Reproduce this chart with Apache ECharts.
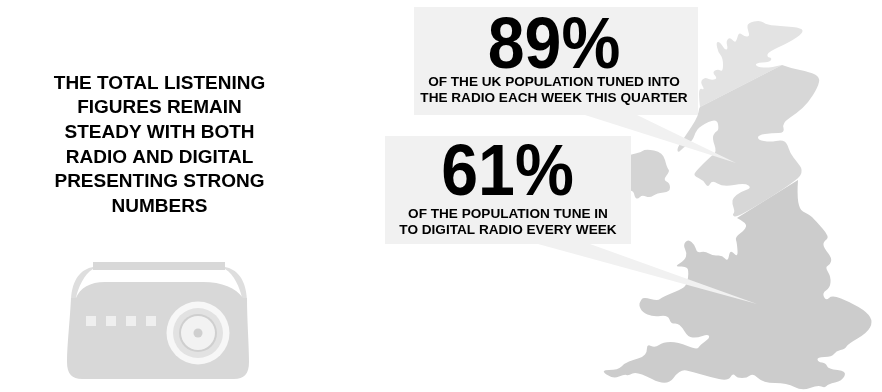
<!DOCTYPE html>
<html>
<head>
<meta charset="utf-8">
<style>html,body{margin:0;padding:0;background:#fff}#chart{width:882px;height:392px}</style>
<script src="https://cdn.jsdelivr.net/npm/echarts@6/dist/echarts.min.js"></script>
</head>
<body>
<div id="chart"></div>
<script>
// Headline figures and their captions
const statValues = [89, 61];
const statCaptions = [
  ['OF THE UK POPULATION TUNED INTO', 'THE RADIO EACH WEEK THIS QUARTER'],
  ['OF THE POPULATION TUNE IN', 'TO DIGITAL RADIO EVERY WEEK']
];
const introLines = [
  'THE TOTAL LISTENING', 'FIGURES REMAIN', 'STEADY WITH BOTH',
  'RADIO AND DIGITAL', 'PRESENTING STRONG', 'NUMBERS'
];

// Map outlines: each coast is an open chain, closed by a straight regional border
const scotlandCoast = [[700,107],[699,100],[699,88],[705,90],[700,82],[705,77],[710,80],[718,79],[712,72],[718,69],[723,72],[723,58],[718,52],[716,42],[720,42],[725,50],[728,49],[726,41],[730,37],[735,43],[737,39],[739,32],[745,37],[750,36],[747,28],[748,23],[760,20],[767,25],[783,26],[802,28],[803,33],[790,42],[768,52],[767,57],[772,58],[770,62],[755,63],[757,67],[770,68],[782,65]];
const northCoast = [[782,65],[790,68],[810,72],[820,77],[818,87],[808,103],[797,113],[782,123],[785,133],[772,133],[758,135],[758,140],[770,142],[782,140],[787,143],[790,153],[797,162],[803,170],[798,180],[737,218],[732,215],[735,212],[732,203],[733,198],[740,192],[752,188],[745,183],[723,187],[712,180],[708,188],[703,180],[694,176],[695,172],[710,157],[717,152],[712,138],[715,132],[719,130],[717,118],[700,126],[695,133],[693,140],[683,148],[678,153],[677,148],[686,135],[692,126],[698,116],[699,108],[700,107]];
const southCoast = [[798,180],[796,208],[810,215],[815,220],[830,237],[823,242],[824,248],[832,258],[830,265],[825,267],[831,277],[830,288],[822,293],[826,301],[832,295],[850,302],[867,312],[873,322],[867,333],[848,344],[845,349],[836,351],[832,357],[817,357],[818,362],[826,363],[828,369],[847,371],[842,381],[828,384],[825,388],[818,385],[802,391],[787,383],[763,383],[753,373],[747,378],[737,378],[733,373],[728,381],[710,377],[693,372],[680,369],[667,387],[637,371],[628,376],[625,374],[613,379],[600,370],[618,370],[625,363],[633,360],[643,357],[647,352],[647,344],[655,348],[663,342],[678,342],[697,350],[700,345],[710,338],[708,334],[697,338],[688,337],[682,327],[677,323],[671,324],[668,315],[653,317],[642,312],[639,305],[640,302],[643,297],[658,301],[662,297],[680,290],[687,285],[689,270],[685,266],[674,267],[685,260],[687,253],[683,245],[688,239],[695,245],[697,253],[705,251],[713,256],[722,255],[728,262],[730,249],[738,258],[737,243],[735,237],[745,230],[747,223],[737,218]];
const irelandCoast = [[620,157],[640,153],[645,149],[663,152],[667,168],[670,171],[663,180],[670,183],[670,192],[657,193],[650,198],[642,195],[638,199],[635,198],[633,189],[620,190]];

// Callout panels and their tapering pointers
const panels = [[414,7,698,115],[385,136,631,244]];
const pointers = [[[585,115],[637,115],[736,163]],[[538,244],[590,244],[757,304]]];

const ink = '#000';
const sans = '"Liberation Sans", Arial, sans-serif';

// Rounds a coast through the midpoints of its segments while keeping both end points
function coastPath(points, api) {
  const p = points.map(q => api.coord(q));
  let d = 'M' + p[0][0] + ' ' + p[0][1];
  for (let i = 1; i < p.length - 1; i++) {
    const mx = (p[i][0] + p[i + 1][0]) / 2, my = (p[i][1] + p[i + 1][1]) / 2;
    d += 'Q' + p[i][0] + ' ' + p[i][1] + ' ' + (i === p.length - 2 ? p[i + 1][0] + ' ' + p[i + 1][1] : mx + ' ' + my);
  }
  return d + 'Z';
}
function area(points, fill, api) {
  return { type: 'path', shape: { pathData: coastPath(points, api) }, style: { fill } };
}
function flat(points, fill, api) {
  return { type: 'polygon', shape: { points: points.map(q => api.coord(q)) }, style: { fill } };
}
function box(r, fill, api) {
  const a = api.coord([r[0], r[1]]), b = api.coord([r[2], r[3]]);
  return { type: 'rect', shape: { x: a[0], y: a[1], width: b[0] - a[0], height: b[1] - a[1] }, style: { fill } };
}
function disc(c, radius, fill, api) {
  const a = api.coord(c);
  return { type: 'circle', shape: { cx: a[0], cy: a[1], r: radius }, style: { fill } };
}

function renderScene(params, api) {
  const children = [
    area(irelandCoast, '#d4d4d4', api),
    area(scotlandCoast, '#e3e3e3', api),
    area(northCoast, '#d7d7d7', api),
    area(southCoast, '#cccccc', api)
  ];
  panels.forEach(r => children.push(box(r, '#f1f1f1', api)));
  pointers.forEach(t => children.push(flat(t, '#f1f1f1', api)));

  // Radio: handle, case, tuning buttons and speaker
  children.push({ type: 'path', shape: { pathData: 'M93 267C82 269 72 278 71 300L76 298C78 288 84 274 93 269ZM225 267C236 269 246 278 247 300L242 298C240 288 234 274 225 269Z' }, style: { fill: '#dedede' } });
  children.push(box([93,262,225,270], '#d8d8d8', api));
  children.push({ type: 'path', shape: { pathData: 'M76 298C80 288 90 282 105 282L203 282C222 282 236 288 243 298L247 298C247 320 249 345 249 362C249 374 244 379 234 379L82 379C72 379 67 374 67 362C67 345 70 320 71 298Z' }, style: { fill: '#d8d8d8' } });
  [86,106,126,146].forEach(x => children.push(box([x,316,x+10,326], '#efefef', api)));
  children.push(disc([198,333], 31.5, '#f7f7f7', api));
  children.push(disc([198,333], 25, '#e2e2e2', api));
  children.push(disc([198,333], 19, '#cfcfcf', api));
  children.push(disc([198,333], 17, '#f2f2f2', api));
  children.push(disc([198,333], 4.5, '#cfcfcf', api));
  return { type: 'group', children };
}

function textEl(text, x, y, size, scaleX) {
  return { type: 'text', z: 100, silent: true, x, y, scaleX: scaleX || 1, style: { text, x: 0, y: 0, fill: ink, font: 'bold ' + size + 'px ' + sans, textAlign: 'center', textVerticalAlign: 'middle' } };
}
const introY = [83.3, 108, 133, 158, 181.7, 206.7];
const bigPos = [[554, 48], [507.5, 175.5]];
const captionY = [[82.5, 98.3], [214, 230]];
const captionX = [554, 508];
const texts = [];
introLines.forEach((t, i) => texts.push(textEl(t, 159.5, introY[i], 19)));
statValues.forEach((v, i) => {
  texts.push(textEl(v + '%', bigPos[i][0], bigPos[i][1], 72, 0.92));
  statCaptions[i].forEach((t, j) => texts.push(textEl(t, captionX[i], captionY[i][j], 13.6)));
});

const chart = echarts.init(document.getElementById('chart'), null, { renderer: 'canvas' });
chart.setOption({
  animation: false,
  backgroundColor: '#fff',
  grid: { left: 0, right: 0, top: 0, bottom: 0 },
  xAxis: { type: 'value', min: 0, max: 882, show: false },
  yAxis: { type: 'value', min: 0, max: 392, inverse: true, show: false },
  series: [{ type: 'custom', silent: true, coordinateSystem: 'cartesian2d', clip: false, data: [[0, 0]], renderItem: renderScene }],
  graphic: { elements: texts }
});
</script>
</body>
</html>
